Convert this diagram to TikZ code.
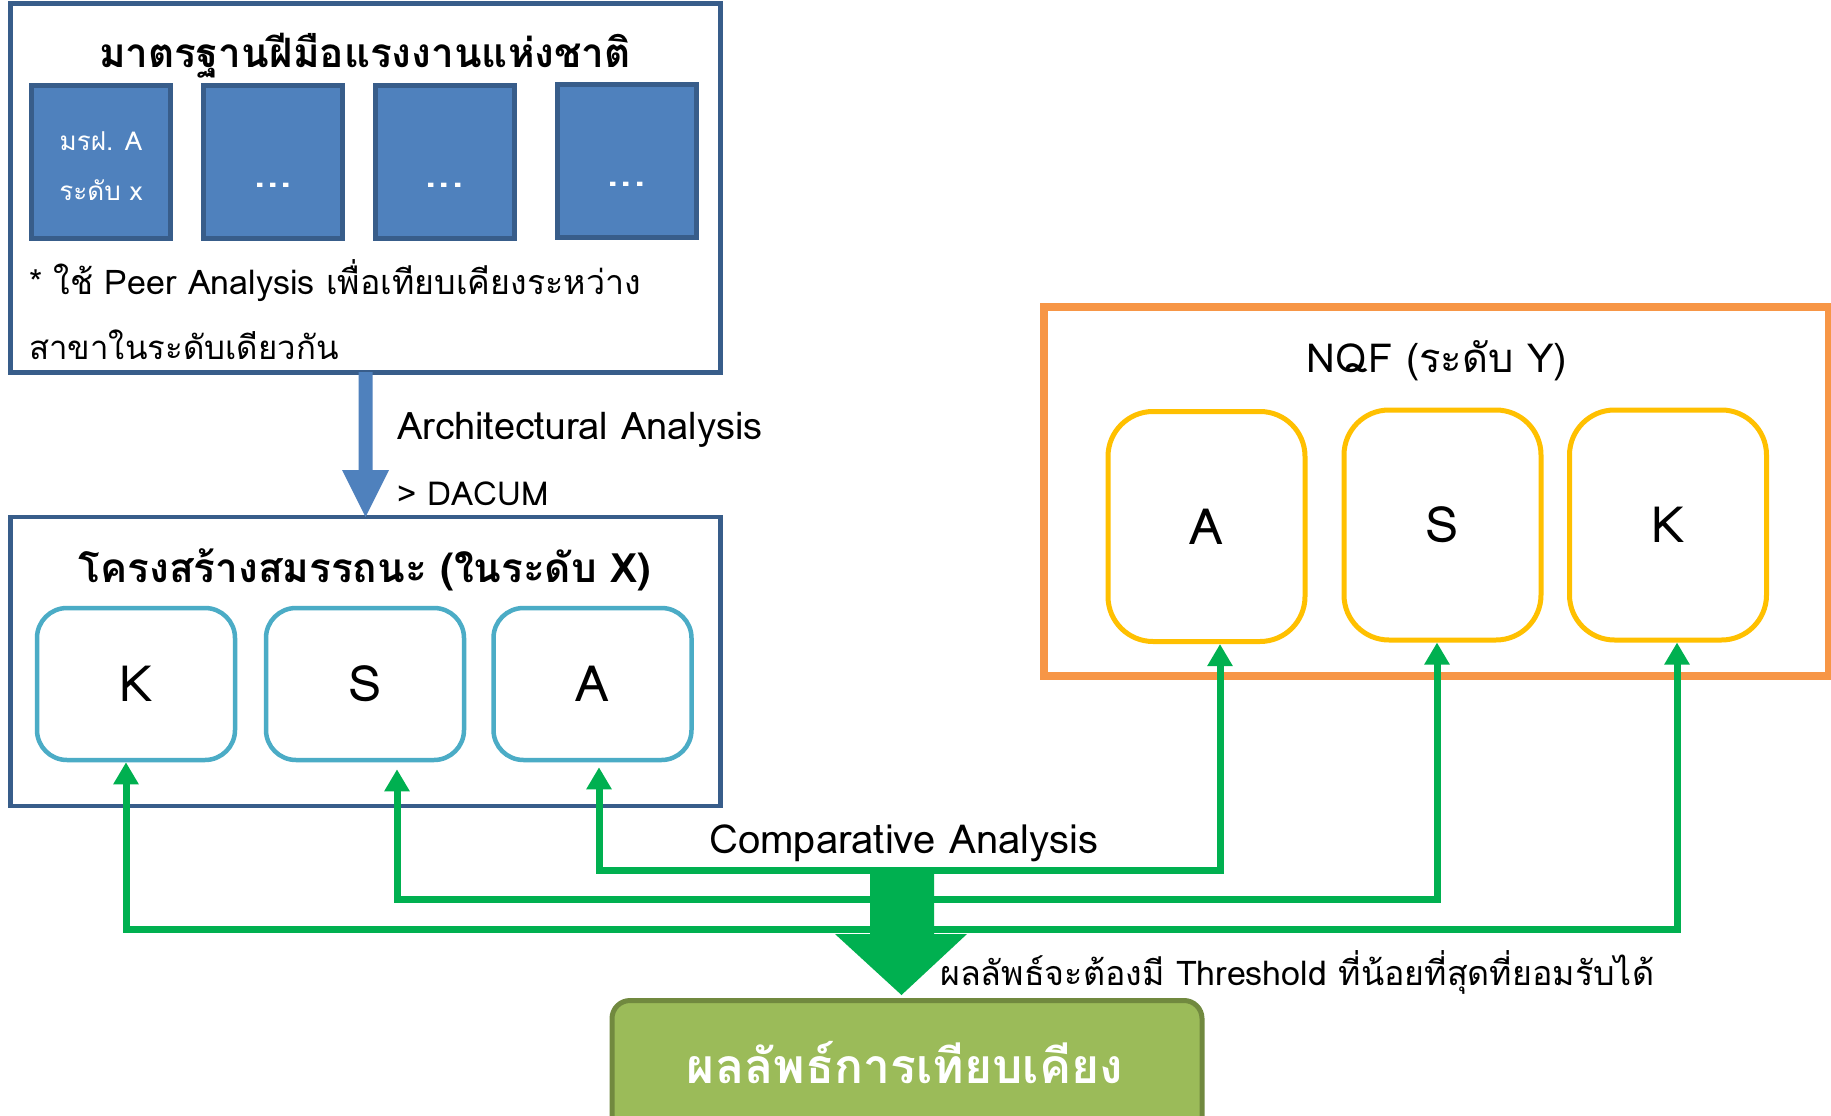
\documentclass[tikz,border=0pt]{standalone}
\usepackage{fontspec}
\setmainfont[Script=Thai]{Loma}
\usetikzlibrary{arrows.meta}
\definecolor{dblue}{HTML}{385D8A}
\definecolor{mblue}{HTML}{4F81BD}
\definecolor{lblue}{HTML}{4BACC6}
\definecolor{orng}{HTML}{F79646}
\definecolor{ylw}{HTML}{FFC000}
\definecolor{grn}{HTML}{00B050}
\definecolor{olive}{HTML}{9BBB59}
\definecolor{olived}{HTML}{71893F}
\tikzset{
  frame/.style={draw=dblue, line width=4.5pt, fill=white},
  sq/.style={draw=dblue, line width=5pt, fill=mblue, minimum width=139pt, minimum height=153pt, text=white, font=\fontsize{26}{50}\selectfont, align=center},
  dots/.style={text=white, font=\bfseries\fontsize{40}{44}\selectfont, inner sep=0pt},
  ksa/.style={draw=lblue, line width=4.5pt, rounded corners=30pt, minimum width=198pt, minimum height=152pt, font=\fontsize{50}{56}\selectfont},
  nqf/.style={draw=ylw, line width=5pt, rounded corners=45pt, minimum width=197pt, minimum height=230pt, font=\fontsize{50}{56}\selectfont},
  garrow/.style={draw=grn, line width=7pt, -{Triangle[width=24pt,length=22pt]}},
  lbl/.style={inner sep=0pt, anchor=west},
}
\begin{document}
\begin{tikzpicture}[x=1pt, y=-1pt]
\clip (0,0) rectangle (1831,1116);
\fill[white] (0,0) rectangle (1831,1116);

% top box
\node[frame, minimum width=710pt, minimum height=369pt] (top) at (365.5,188) {};
\node[font=\bfseries\fontsize{40.5}{46}\selectfont] (toptitle) at (365,56) {มาตรฐานฝีมือแรงงานแห่งชาติ};
\node[sq] (s1) at (101,161.5) {};
\node[sq] (s2) at (273,161.5) {};
\node[sq] (s3) at (444.5,161.5) {};
\node[sq] (s4) at (626.5,160.5) {};
\node[text=white, align=center, font=\fontsize{26}{50}\selectfont] (s1text) at ([yshift=-5pt]s1.center) {มรฝ. A\\ระดับ x};
\node[dots] (d2) at ([yshift=-24pt]s2.center) {.\kern2pt.\kern2pt.};
\node[dots] (d3) at ([yshift=-24pt]s3.center) {.\kern2pt.\kern2pt.};
\node[dots] (d4) at ([yshift=-24pt]s4.center) {.\kern2pt.\kern2pt.};
\node[lbl, font=\fontsize{34}{40}\selectfont] (note1) at (29,281) {* ใช้ Peer Analysis เพื่อเทียบเคียงระหว่าง};
\node[lbl, font=\fontsize{33}{40}\selectfont] (note2) at (29,345) {สาขาในระดับเดียวกัน};

% middle box
\node[frame, minimum width=710pt, minimum height=289pt] (mid) at (365.5,661.5) {};
\node[font=\bfseries\fontsize{40.5}{46}\selectfont] (midtitle) at (365,570) {โครงสร้างสมรรถนะ (ในระดับ X)};
\node[ksa] (xK) at (136,684) {K};
\node[ksa] (xS) at (365,684) {S};
\node[ksa] (xA) at (592.5,684) {A};

% blue arrow
\fill[mblue] (358.5,372) -- (372.5,372) -- (372.5,470) -- (389,470) -- (365.5,517) -- (342,470) -- (358.5,470) -- cycle;
\node[lbl, font=\fontsize{38}{44}\selectfont] (arch) at (397,430) {Architectural Analysis};
\node[lbl, font=\fontsize{33}{38}\selectfont] (dacum) at (397,494) {> DACUM};

% NQF box
\node[draw=orng, line width=8pt, minimum width=785pt, minimum height=369pt] (nqfbox) at (1436.5,491.5) {};
\node[font=\fontsize{40}{46}\selectfont] (nqftitle) at (1437,361) {NQF (ระดับ Y)};
\node[nqf] (yA) at (1206.5,526.5) {A};
\node[nqf] (yS) at (1442.5,525) {S};
\node[nqf] (yK) at (1668,525) {K};

% green connectors
\coordinate (j1) at (901,870);
\coordinate (j2) at (901,899);
\coordinate (j3) at (901,929.5);
\draw[garrow] (j1) -| ([xshift=6.5pt,yshift=-5pt]xA.south);
\draw[garrow] (j1) -| ([xshift=13.5pt]yA.south);
\draw[garrow] (j2) -| ([xshift=32pt,yshift=-7pt]xS.south);
\draw[garrow] (j2) -| ([xshift=-5.5pt]yS.south);
\draw[garrow] (j3) -| ([xshift=-10pt]xK.south);
\draw[garrow] (j3) -| ([xshift=9pt]yK.south);

% big green arrow
\fill[grn] (870,870) -- (934,870) -- (934,934) -- (967,934) -- (901.5,995) -- (835,934) -- (870,934) -- cycle;
\node[font=\fontsize{40}{46}\selectfont] (comp) at (904,843) {Comparative Analysis};
\node[lbl, font=\fontsize{34}{40}\selectfont] (thresh) at (940,972) {ผลลัพธ์จะต้องมี Threshold ที่น้อยที่สุดที่ยอมรับได้};

% result box
\node[draw=olived, fill=olive, line width=5pt, rounded corners=18pt, minimum width=590pt, minimum height=140pt, anchor=north west] (res) at (609.5,998) {};
\node[text=white, font=\bfseries\fontsize{48}{54}\selectfont] (restext) at (905,1063) {ผลลัพธ์การเทียบเคียง};
\end{tikzpicture}
\end{document}
